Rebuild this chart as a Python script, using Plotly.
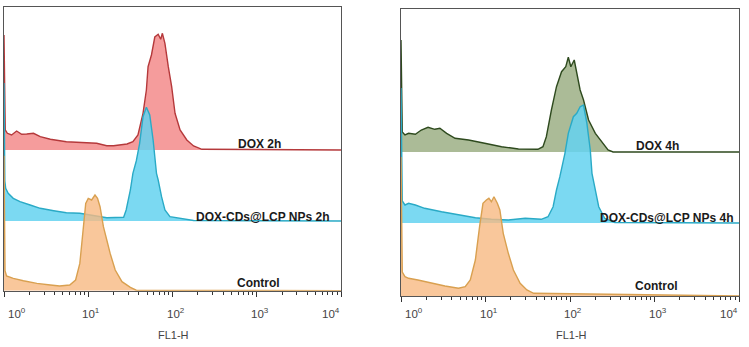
import numpy as np
import plotly.graph_objects as go

# ---------------- data (log10 of FL1-H, event counts) ----------------
# Left panel: 2 h
dox2h_log = [0.0, 0.015, 0.04, 0.09, 0.15, 0.21, 0.27, 0.35, 0.43, 0.55, 0.74, 0.94, 1.10, 1.22, 1.30,
             1.46, 1.53, 1.59, 1.65, 1.69, 1.71, 1.75, 1.79, 1.83, 1.86, 1.88, 1.91, 1.95, 1.99, 2.03,
             2.09, 2.17, 2.25, 2.35, 4.0]
dox2h_cnt = [115, 20, 16.7, 15, 19, 15.7, 16, 16.7, 13.3, 10.7, 8.3, 7.3, 6.7, 4.3, 4.3,
             6, 8.3, 15, 36.7, 60, 83.3, 95, 113, 115.7, 110.7, 116.7, 106.7, 83.3, 63.3, 36.7,
             20, 10, 4, 0.7, 0]

cds2h_log = [0.0, 0.01, 0.02, 0.05, 0.11, 0.19, 0.31, 0.43, 0.59, 0.74, 0.90, 1.02, 1.22, 1.42, 1.45,
             1.50, 1.53, 1.57, 1.61, 1.65, 1.69, 1.73, 1.77, 1.81, 1.83, 1.87, 1.91, 1.97, 2.13, 2.25, 4.0]
cds2h_cnt = [138, 40, 32.7, 27.7, 22.7, 19.3, 16, 12.7, 10.3, 8.3, 7.7, 6, 3.3, 3.7, 11,
             31, 47.7, 60, 77.7, 104.3, 113.7, 106, 81, 47.7, 41, 24.3, 11, 4.3, 1.7, 0.5, 0]

ctl2h_log = [0.0, 0.012, 0.03, 0.11, 0.23, 0.39, 0.55, 0.66, 0.78, 0.85, 0.90, 0.94, 0.97, 1.00, 1.04,
             1.08, 1.11, 1.14, 1.18, 1.22, 1.26, 1.32, 1.40, 1.50, 1.57, 4.0]
ctl2h_cnt = [135, 20, 14.7, 12.3, 10, 7.3, 5.7, 4.7, 5.7, 10.7, 27.3, 60.7, 87.3, 92.3, 90.7,
             95.7, 92.3, 84, 64, 50.7, 37.3, 20.7, 9, 3.3, 0.5, 0]

# Right panel: 4 h
dox4h_log = [0.0, 0.015, 0.047, 0.09, 0.17, 0.24, 0.32, 0.40, 0.46, 0.54, 0.64, 0.80, 0.99, 1.19, 1.39,
             1.62, 1.68, 1.72, 1.78, 1.84, 1.90, 1.95, 1.98, 2.01, 2.05, 2.08, 2.12, 2.16, 2.22, 2.30,
             2.38, 2.45, 2.51, 4.0]
dox4h_cnt = [112, 20, 17, 18.7, 17.7, 22, 24.7, 22.7, 23.7, 18.7, 13.7, 12, 8.7, 5.3, 3,
             2.7, 5.3, 15.3, 42, 65.3, 80.3, 85.3, 94.7, 85.3, 92, 80.3, 62, 52, 32, 18.7,
             10.3, 2, 0, 0]

cds4h_log = [0.0, 0.015, 0.047, 0.09, 0.17, 0.28, 0.48, 0.68, 0.88, 1.07, 1.27, 1.47, 1.66, 1.74, 1.80,
             1.84, 1.88, 1.94, 1.98, 2.04, 2.08, 2.12, 2.16, 2.20, 2.24, 2.26, 2.30, 2.34, 2.41, 2.53, 4.0]
cds4h_cnt = [135, 22, 18, 19.7, 18, 14.7, 11.3, 8, 5.3, 3.7, 3, 4.7, 3.7, 6.3, 16.3,
             33, 46.3, 69.7, 89.7, 106.3, 109.7, 116.3, 118, 99.7, 73, 49.7, 33, 16.3, 4.7, 0.5, 0]

ctl4h_log = [0.0, 0.015, 0.047, 0.09, 0.20, 0.36, 0.52, 0.68, 0.76, 0.82, 0.88, 0.93, 0.97, 1.01, 1.04,
             1.07, 1.10, 1.14, 1.17, 1.21, 1.27, 1.33, 1.41, 1.49, 1.57, 4.0]
ctl4h_cnt = [139, 24, 19.3, 17.7, 16, 12.7, 10, 7.7, 9.3, 16, 36, 69.3, 92.7, 96, 97.7,
             94.3, 99.3, 92.7, 86, 62.7, 42.7, 26, 12.7, 6, 2.7, 0]

tick_vals = [1, 10, 100, 1000, 10000]
tick_text = ["10<sup>0</sup>", "10<sup>1</sup>", "10<sup>2</sup>", "10<sup>3</sup>", "10<sup>4</sup>"]
x_title = "FL1-H"

FONT = "Arial, Liberation Sans, sans-serif"

panels = [
    dict(xa="x", ya="y", offsets=[140.7, 69.7, 0.0],
         series=[("DOX 2h", dox2h_log, dox2h_cnt, "rgba(238,90,90,0.6)", "#b5393b", 3.31, 6),
                 ("DOX-CDs@LCP NPs 2h", cds2h_log, cds2h_cnt, "rgba(100,210,240,0.85)", "#2aaac6", 3.89, 4),
                 ("Control", ctl2h_log, ctl2h_cnt, "rgba(248,185,130,0.8)", "#d9a050", 3.30, 7.5)]),
    dict(xa="x2", ya="y2", offsets=[144.0, 73.0, 0.0],
         series=[("DOX 4h", dox4h_log, dox4h_cnt, "rgba(150,170,125,0.8)", "#2e4a1e", 3.31, 6),
                 ("DOX-CDs@LCP NPs 4h", cds4h_log, cds4h_cnt, "rgba(100,210,240,0.85)", "#2aaac6", 3.96, 5),
                 ("Control", ctl4h_log, ctl4h_cnt, "rgba(248,185,130,0.8)", "#d9a050", 3.30, 10)]),
]

fig = go.Figure()
annotations = []
for p in panels:
    for (name, lg, cnt, fillc, linec, lab_x, lab_dy), off in zip(p["series"], p["offsets"]):
        x = np.power(10.0, np.array(lg))
        y = np.array(cnt) + off
        fig.add_trace(go.Scatter(x=[1, 10000], y=[off, off], mode="lines",
                                 line=dict(width=0), hoverinfo="skip", showlegend=False,
                                 xaxis=p["xa"], yaxis=p["ya"]))
        fig.add_trace(go.Scatter(x=x, y=y, mode="lines", fill="tonexty", fillcolor=fillc,
                                 line=dict(color=linec, width=1.4), name=name, showlegend=False,
                                 xaxis=p["xa"], yaxis=p["ya"]))
        annotations.append(dict(x=lab_x, y=off + lab_dy, xref=p["xa"], yref=p["ya"],
                                text="<b>%s</b>" % name, showarrow=False, xanchor="right",
                                yanchor="middle", font=dict(family=FONT, size=12, color="#1a1a1a")))
    # decade tick labels (placed at the axis tick values)
    for i, (tv, tt) in enumerate(zip(tick_vals, tick_text)):
        if i == 0:
            anchor, shift = "left", 2
        elif i == len(tick_vals) - 1:
            anchor, shift = "right", 1
        else:
            anchor, shift = "center", 3
        annotations.append(dict(x=np.log10(tv), y=(347 - 313) / 347, xref=p["xa"], yref="paper",
                                text=tt, showarrow=False, xanchor=anchor, yanchor="middle",
                                xshift=shift, font=dict(family=FONT, size=11.5, color="#444")))
    annotations.append(dict(x=2, y=(347 - 335) / 347, xref=p["xa"], yref="paper", text=x_title,
                            showarrow=False, xanchor="center", yanchor="middle", xshift=1,
                            font=dict(family=FONT, size=11, color="#444")))

xcommon = dict(type="log", range=[0, 4], showline=True, linecolor="#555", linewidth=1, mirror=True,
               ticks="outside", ticklen=5, tickwidth=1.2, tickcolor="#333", automargin=False,
               tickvals=tick_vals, showticklabels=False, showgrid=False, zeroline=False,
               minor=dict(ticks="outside", ticklen=3, tickcolor="#333", dtick="D1", showgrid=False))
ycommon = dict(showline=True, linecolor="#555", linewidth=1, mirror=True, ticks="", automargin=False,
               showticklabels=False, showgrid=False, zeroline=False)

fig.update_layout(
    width=749, height=347, margin=dict(l=0, r=0, t=0, b=0, autoexpand=False),
    paper_bgcolor="white", plot_bgcolor="white",
    xaxis=dict(domain=[4 / 749, 341 / 749], anchor="y", **xcommon),
    xaxis2=dict(domain=[401 / 749, 739 / 749], anchor="y2", **xcommon),
    yaxis=dict(domain=[56.3 / 347, 340 / 347], anchor="x", range=[0, 283.7], **ycommon),
    yaxis2=dict(domain=[51 / 347, 338 / 347], anchor="x2", range=[0, 287.0], **ycommon),
    annotations=annotations,
)

fig.write_html("out.html", post_script="document.body.style.margin='0';",
               config={"displayModeBar": False})
